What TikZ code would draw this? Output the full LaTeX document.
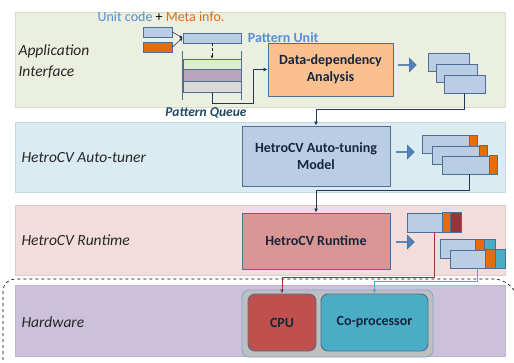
\documentclass[tikz,border=0pt]{standalone}
\usepackage{fontspec}
\setmainfont{Carlito}
\usetikzlibrary{arrows.meta,positioning,shapes.arrows}

\definecolor{bandA}{RGB}{235,239,223}
\definecolor{bandB}{RGB}{218,235,242}
\definecolor{bandC}{RGB}{242,221,220}
\definecolor{bandD}{RGB}{204,193,218}
\definecolor{edge}{RGB}{79,110,150}
\definecolor{cellblue}{RGB}{185,205,229}
\definecolor{peach}{RGB}{250,192,144}
\definecolor{rose}{RGB}{217,150,148}
\definecolor{tailor}{RGB}{228,108,10}
\definecolor{tailred}{RGB}{149,55,53}
\definecolor{tailcy}{RGB}{75,172,198}
\definecolor{cpured}{RGB}{192,80,77}
\definecolor{navy}{RGB}{23,37,60}
\definecolor{wirenavy}{RGB}{31,56,90}
\definecolor{labblue}{RGB}{85,142,213}
\definecolor{queuetxt}{RGB}{31,73,99}
\definecolor{arrowblue}{RGB}{79,129,189}

\begin{document}
\begin{tikzpicture}[x=1pt,y=-1pt,
  band/.style={draw=#1!92!black,fill=#1,inner sep=0,minimum width=490pt},
  lay/.style={anchor=west,align=left,font=\fontsize{15.5}{21}\selectfont\itshape,text=black!85},
  box/.style={draw=edge,line width=0.9pt,inner sep=0,align=center,text=navy,
              font=\fontsize{14}{17}\selectfont\bfseries},
  cell/.style={draw=edge,line width=0.8pt,fill=cellblue,inner sep=0},
  row/.style={draw=edge,line width=0.6pt,inner sep=0,minimum width=58pt},
  tail/.style={draw=edge,line width=0.6pt,fill=#1},
  fat/.style={single arrow,fill=arrowblue,draw=arrowblue!80!black,inner sep=0,
              minimum height=18pt,minimum width=14pt,single arrow head extend=3pt},
  wire/.style={-{Latex[length=4pt,width=4pt]},line width=0.9pt,draw=#1},
  wire/.default=wirenavy]
 \useasboundingbox (0,0) rectangle (514,362);

 % ---- layers ----
 \node[band=bandA,minimum height=95pt] (appl) at (260,59.5) {};
 \node[band=bandB,minimum height=70pt] (tuner) at (260,157) {};
 \node[band=bandC,minimum height=70pt] (rt) at (260,240) {};
 \node[band=bandD,minimum height=71pt] (hw) at (260,320.5) {};
 \draw[dashed,line width=0.6pt,rounded corners=12pt] (3,372) -- (3,279) -- (506,279) -- (518,296);

 \node[lay] (applT) at (15,62) {Application\\Interface};
 \node[lay] (tunerT) at (18,158) {HetroCV Auto-tuner};
 \node[lay] (rtT) at (18,240) {HetroCV Runtime};
 \node[lay] (hwT) at (18,322) {Hardware};

 % ---- application interface ----
 \node[font=\fontsize{14}{16}\selectfont] (legend) at (161,17)
   {\textcolor{labblue}{Unit code} + \textcolor{tailor}{Meta info.}};
 \node[cell,minimum width=29pt,minimum height=10pt] (code) at (157.5,32) {};
 \node[cell,fill=tailor,minimum width=29pt,minimum height=10pt] (meta) at (157.5,47) {};
 \node[cell,minimum width=58pt,minimum height=10pt] (unit) at (212,38) {};
 \node[right=3pt of unit,text=labblue,font=\fontsize{14}{16}\selectfont\bfseries] (unitT) {Pattern Unit};
 \draw[-{Latex[length=3pt,width=3pt]},line width=0.5pt,navy] (code.east) -- (unit.west);
 \draw[-{Latex[length=3pt,width=3pt]},line width=0.5pt,navy] (meta.east) -- (unit.west);

 \node[row,fill=green!30!olive!20,minimum height=10pt] (q1) at (212,64) {};
 \node[row,fill=violet!30!gray!55,minimum height=12pt] (q2) at (212,75) {};
 \node[row,fill=black!15,minimum height=11pt] (q3) at (212,86.5) {};
 \draw[edge,line width=1pt] ([yshift=8pt]q1.north west) -- ([yshift=-8pt]q3.south west);
 \draw[edge,line width=1pt] ([yshift=8pt]q1.north east) -- ([yshift=-8pt]q3.south east);
 \draw[densely dashed,-{Latex[length=3pt,width=3pt]},line width=0.5pt,navy] (unit.south) -- (q1.north);
 \node[text=queuetxt,font=\fontsize{13.5}{15}\selectfont\bfseries\itshape] (queueT) at (206,113) {Pattern Queue};

 \node[box,fill=peach,minimum width=125pt,minimum height=53pt] (dda) at (330.5,69.5) {Data-dependency\\Analysis};
 \draw[wire] (q3.south) -- ++(0,11) -| ([xshift=-14pt]dda.west) -- (dda.west);
 \node[fat] (go1) at (407,65) {};
 \node[cell,minimum width=41pt,minimum height=18pt] (s1) at (448.5,62) {};
 \node[cell,minimum width=41pt,minimum height=18pt] (s2) at (456.5,73) {};
 \node[cell,minimum width=41pt,minimum height=18pt] (s3) at (464.5,84) {};

 % ---- auto-tuner ----
 \node[box,fill=cellblue,minimum width=148pt,minimum height=60pt] (model) at (316,156) {HetroCV Auto-tuning\\Model};
 \draw[wire] (s3.south) -- ++(0,16) -| (model.north);
 \node[fat] (go2) at (405,152) {};
 \foreach \n/\cx/\cy in {t1/449.5/144.5, t2/459.5/155, t3/469.5/165} {
   \node[cell,minimum width=55pt,minimum height=18pt] (\n) at (\cx,\cy) {};
   \draw[tail=tailor] ([xshift=-8pt]\n.north east) rectangle (\n.south east);
 }

 % ---- runtime ----
 \node[box,fill=rose,minimum width=148pt,minimum height=56pt] (run) at (316,241) {HetroCV Runtime};
 \draw[wire] (t3.south) -- ++(0,16) -| (run.north);
 \node[fat] (go3) at (405,242) {};

 \node[cell,minimum width=54pt,minimum height=19pt] (ra) at (434,222.5) {};
 \draw[tail=tailor] ([xshift=-19pt]ra.north east) rectangle ([xshift=-11pt]ra.south east);
 \draw[tail=tailred] ([xshift=-11pt]ra.north east) rectangle (ra.south east);
 \node[cell,minimum width=55pt,minimum height=19pt] (rb) at (467.5,249) {};
 \draw[tail=tailor] ([xshift=-20pt]rb.north east) rectangle ([xshift=-11pt]rb.south east);
 \draw[tail=tailcy] ([xshift=-11pt]rb.north east) rectangle (rb.south east);
 \node[cell,minimum width=55pt,minimum height=18pt] (rc) at (477.5,259) {};
 \draw[tail=tailor] ([xshift=-20pt]rc.north east) rectangle ([xshift=-10pt]rc.south east);
 \draw[tail=tailcy] ([xshift=-10pt]rc.north east) rectangle (rc.south east);

 % ---- hardware ----
 \node[draw=arrowblue!70,line width=0.9pt,fill=black!25,rounded corners=7pt,inner sep=0,
       minimum width=191pt,minimum height=67pt] (chip) at (337.5,323.5) {};
 \node[box,fill=cpured,rounded corners=7pt,minimum width=68pt,minimum height=57pt] (cpu) at (282,322.5) {CPU};
 \node[box,fill=tailcy,rounded corners=7pt,minimum width=107pt,minimum height=57pt] (cop) at (374.5,322.5) {Co-processor};
 \draw[wire=tailred] (ra.south) -- ++(0,45) -| (cpu.north);
 \draw[wire=tailcy] (rc.south) -- ++(0,13) -| (cop.north);
\end{tikzpicture}
\end{document}
